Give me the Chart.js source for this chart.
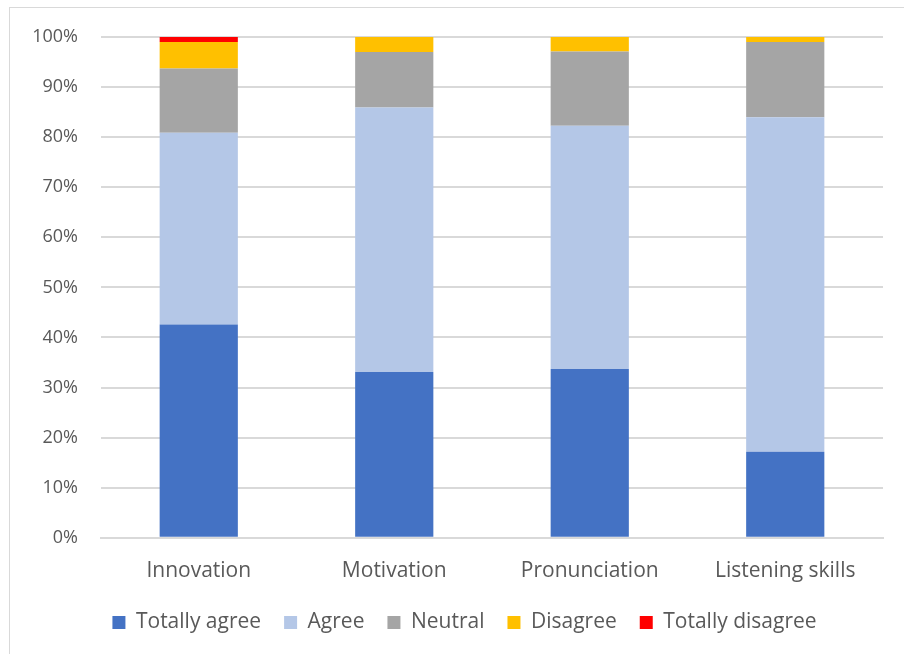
<!DOCTYPE html>
<html>
<head>
<meta charset="utf-8">
<script src="https://cdn.jsdelivr.net/npm/chart.js@4"></script>
<style>
  html, body { margin: 0; padding: 0; background: #fff; }
  #wrap { position: relative; width: 904px; height: 654px; }
  #frame { position: absolute; left: 9px; top: 7px; width: 920px; height: 680px; border: 1px solid #d9d9d9; }
  canvas { position: absolute; left: 0; top: 0; }
</style>
</head>
<body>
<div id="wrap">
  <div id="frame"></div>
  <canvas id="chart" width="904" height="654"></canvas>
</div>
<script>
  'use strict';

  var categories = ['Innovation', 'Motivation', 'Pronunciation', 'Listening skills'];
  var totallyAgree = [42.6, 33.1, 33.7, 17.2];
  var agree = [38.3, 52.8, 48.6, 66.8];
  var neutral = [12.8, 11.1, 14.8, 15.0];
  var disagree = [5.3, 3.0, 2.9, 1.0];
  var totallyDisagree = [1.0, 0, 0, 0];

  var textColor = '#595959';
  var gridColor = '#d9d9d9';

  function makeSet(label, data, color) {
    return {
      label: label,
      data: data,
      backgroundColor: color,
      borderWidth: 0,
      barPercentage: 0.4,
      categoryPercentage: 1.0
    };
  }

  // legend sits a bit right of the plot centre in the original
  var shiftLegend = {
    id: 'shiftLegend',
    afterLayout: function (chart) {
      chart.legend.left += 18;
      chart.legend.right += 18;
    }
  };

  var ctx = document.getElementById('chart').getContext('2d');
  var chart = new Chart(ctx, {
    type: 'bar',
    data: {
      labels: categories,
      datasets: [
        makeSet('Totally agree', totallyAgree, '#4472c4'),
        makeSet('Agree', agree, '#b4c7e7'),
        makeSet('Neutral', neutral, '#a5a5a5'),
        makeSet('Disagree', disagree, '#ffc000'),
        makeSet('Totally disagree', totallyDisagree, '#ff0000')
      ]
    },
    plugins: [shiftLegend],
    options: {
      responsive: false,
      animation: false,
      layout: { padding: { top: 37, right: 21, bottom: 11, left: 10 } },
      plugins: {
        tooltip: { enabled: false },
        legend: {
          position: 'bottom',
          labels: {
            boxWidth: 13,
            boxHeight: 13,
            padding: 23,
            color: textColor,
            font: { family: 'Open Sans', size: 21 }
          }
        }
      },
      scales: {
        x: {
          stacked: true,
          afterFit: function (s) { s.height -= 8; },
          grid: { display: false },
          border: { color: gridColor, width: 2 },
          ticks: {
            color: textColor,
            padding: 13,
            font: { family: 'Open Sans', size: 21 }
          }
        },
        y: {
          stacked: true,
          min: 0,
          max: 100,
          afterFit: function (s) { s.width = 91; },
          grid: { color: gridColor, lineWidth: 2, drawTicks: false },
          border: { display: false },
          ticks: {
            stepSize: 10,
            padding: 23,
            color: textColor,
            font: { family: 'Open Sans', size: 18 },
            callback: function (v) { return v + '%'; }
          }
        }
      }
    }
  });
</script>
</body>
</html>
